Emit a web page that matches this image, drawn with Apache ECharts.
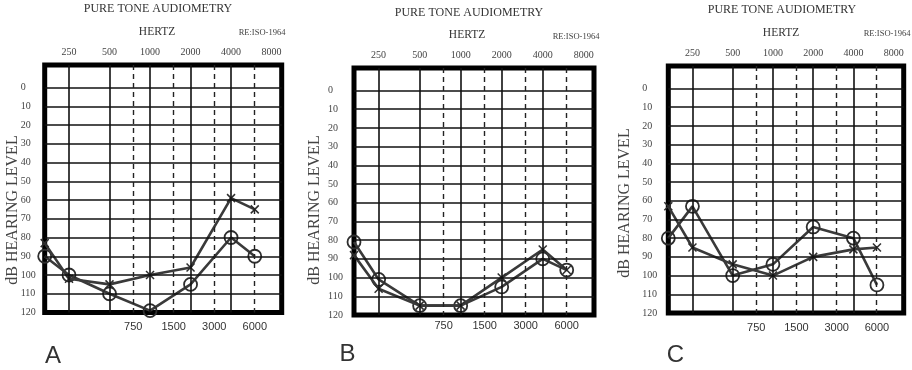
<!DOCTYPE html>
<html>
<head>
<meta charset="utf-8">
<script src="https://cdn.jsdelivr.net/npm/echarts@6/dist/echarts.min.js"></script>
<style>
html,body{margin:0;padding:0;background:#fff;}
#chart{width:912px;height:370px;}
</style>
</head>
<body>
<div id="chart"></div>
<script>
// ---- data ----
const TOP_FREQS = [250, 500, 1000, 2000, 4000, 8000];
const BOTTOM_FREQS = [750, 1500, 3000, 6000];
const SOLID_FREQS = [250, 500, 1000, 2000, 4000];
const DASHED_FREQS = [750, 1500, 3000, 6000];
const DB_TICKS = [0, 10, 20, 30, 40, 50, 60, 70, 80, 90, 100, 110, 120];
const TEST_FREQS = [125, 250, 500, 1000, 2000, 4000, 6000];
const A_CIRCLE = [90, 100, 110, 119, 105, 80, 90];
const A_CROSS  = [83, 102, 105, 100, 96, 59, 65];
const B_CIRCLE = [81, 101, 115, 115, 105, 90, 96];
const B_CROSS  = [88, 106, 115, 115, 100, 85, 96];
const C_CIRCLE = [80, 63, 100, 94, 74, 80, 105];
const C_CROSS  = [63, 85, 94, 100, 90, 86, 85];
const PANEL_LETTERS = ['A', 'B', 'C'];

// ---- scale: octaves re 250 Hz; the 125 Hz column is compressed onto the left edge ----
const X_MIN = -0.6, X_MAX = 5.25;
const pos = f => f < 250 ? X_MIN : Math.log2(f / 250);
const ALL_FREQS = TOP_FREQS.concat(BOTTOM_FREQS);
const freqLabel = v => {
  let best = ALL_FREQS[0];
  ALL_FREQS.forEach(f => { if (Math.abs(pos(f) - v) < Math.abs(pos(best) - v)) best = f; });
  return String(best);
};

const SERIF = '"Liberation Serif", "DejaVu Serif", serif';
const SANS = '"Liberation Sans", Arial, sans-serif';

const panels = [
  {grid: {left: 44.7, top: 65, width: 237, height: 247.5}, circle: A_CIRCLE, cross: A_CROSS,
   title: [158, 8.5], hertz: [157, 31.7], re: [262, 32.7], ylab: [13, 210], letter: [53, 356.5],
   yMargin: 24, bMargin: 14},
  {grid: {left: 354, top: 68, width: 240, height: 247}, circle: B_CIRCLE, cross: B_CROSS,
   title: [469, 12.5], hertz: [467, 34.5], re: [576, 36.7], ylab: [315, 210], letter: [347.5, 354.5],
   yMargin: 26, bMargin: 11},
  {grid: {left: 668.3, top: 66, width: 235.4, height: 247}, circle: C_CIRCLE, cross: C_CROSS,
   title: [782, 10], hertz: [781, 32.7], re: [887, 33.3], ylab: [625, 203], letter: [675.5, 355.5],
   yMargin: 26, bMargin: 15}
];

const LINE_COLOR = '#3a3a3a';
const grids = [], xAxes = [], yAxes = [], series = [], graphics = [];

panels.forEach((p, i) => {
  grids.push(Object.assign({show: true, borderColor: '#000', borderWidth: 5, backgroundColor: 'transparent'}, p.grid));
  const common = {type: 'value', gridIndex: i, min: X_MIN, max: X_MAX,
    axisLine: {show: false}, axisTick: {show: false}, splitLine: {show: false}};
  xAxes.push(Object.assign({}, common, {position: 'top',
    axisLabel: {customValues: TOP_FREQS.map(pos), formatter: freqLabel, margin: 13, verticalAlign: 'middle',
      fontFamily: SERIF, fontSize: 10, color: '#444'}}));
  xAxes.push(Object.assign({}, common, {position: 'bottom',
    axisLabel: {customValues: BOTTOM_FREQS.map(pos), formatter: freqLabel, margin: p.bMargin, verticalAlign: 'middle',
      fontFamily: SANS, fontSize: 11, color: '#333'}}));
  yAxes.push({type: 'value', gridIndex: i, inverse: true, min: -12, max: 120,
    axisLine: {show: false}, axisTick: {show: false}, splitLine: {show: false},
    axisLabel: {customValues: DB_TICKS, align: 'left', margin: p.yMargin, verticalAlign: 'middle',
      fontFamily: SERIF, fontSize: 10, color: '#444'}});

  const mlData = [];
  DB_TICKS.filter(v => v < 120).forEach(v => mlData.push({yAxis: v, lineStyle: {type: 'solid', width: 1.6, color: '#111'}}));
  SOLID_FREQS.forEach(f => mlData.push({xAxis: pos(f), lineStyle: {type: 'solid', width: 1.6, color: '#111'}}));
  DASHED_FREQS.forEach(f => mlData.push({xAxis: pos(f), lineStyle: {type: [5, 4], width: 1.4, color: '#222'}}));

  series.push({
    type: 'line', xAxisIndex: 2 * i, yAxisIndex: i, z: 1, data: [], silent: true,
    markLine: {silent: true, symbol: ['none', 'none'], label: {show: false}, animation: false, data: mlData}
  });
  series.push({
    type: 'line', xAxisIndex: 2 * i, yAxisIndex: i, z: 3, clip: false, silent: true,
    data: TEST_FREQS.map((f, k) => [pos(f), p.circle[k]]),
    symbol: 'circle', symbolSize: 13,
    lineStyle: {color: LINE_COLOR, width: 2.6},
    itemStyle: {color: 'rgba(0,0,0,0)', borderColor: '#2e2e2e', borderWidth: 1.8}
  });
  series.push({
    type: 'line', xAxisIndex: 2 * i, yAxisIndex: i, z: 4, clip: false, silent: true,
    data: TEST_FREQS.map((f, k) => [pos(f), p.cross[k]]),
    symbol: 'path://M0 0L10 10M10 0L0 10', symbolSize: 8,
    lineStyle: {color: LINE_COLOR, width: 2.6},
    itemStyle: {color: 'none', borderColor: '#2e2e2e', borderWidth: 1.5}
  });

  graphics.push({type: 'text', x: p.title[0], y: p.title[1], style: {text: 'PURE TONE AUDIOMETRY',
    font: '12px ' + SERIF, fill: '#333', textAlign: 'center', textVerticalAlign: 'middle'}});
  graphics.push({type: 'text', x: p.hertz[0], y: p.hertz[1], style: {text: 'HERTZ',
    font: '11.5px ' + SERIF, fill: '#333', textAlign: 'center', textVerticalAlign: 'middle'}});
  graphics.push({type: 'text', x: p.re[0], y: p.re[1], style: {text: 'RE:ISO-1964',
    font: '8.5px ' + SERIF, fill: '#444', textAlign: 'center', textVerticalAlign: 'middle'}});
  graphics.push({type: 'text', x: p.ylab[0], y: p.ylab[1], rotation: Math.PI / 2, style: {text: 'dB HEARING LEVEL',
    font: '16px ' + SERIF, fill: '#444', textAlign: 'center', textVerticalAlign: 'middle'}});
  graphics.push({type: 'text', x: p.letter[0], y: p.letter[1], style: {text: PANEL_LETTERS[i],
    font: '24px ' + SANS, fill: '#333', textAlign: 'center', textVerticalAlign: 'middle'}});
});

const chart = echarts.init(document.getElementById('chart'), null, {renderer: 'canvas'});
chart.setOption({
  animation: false,
  backgroundColor: '#fff',
  grid: grids,
  xAxis: xAxes,
  yAxis: yAxes,
  series: series,
  graphic: graphics
});
</script>
</body>
</html>
